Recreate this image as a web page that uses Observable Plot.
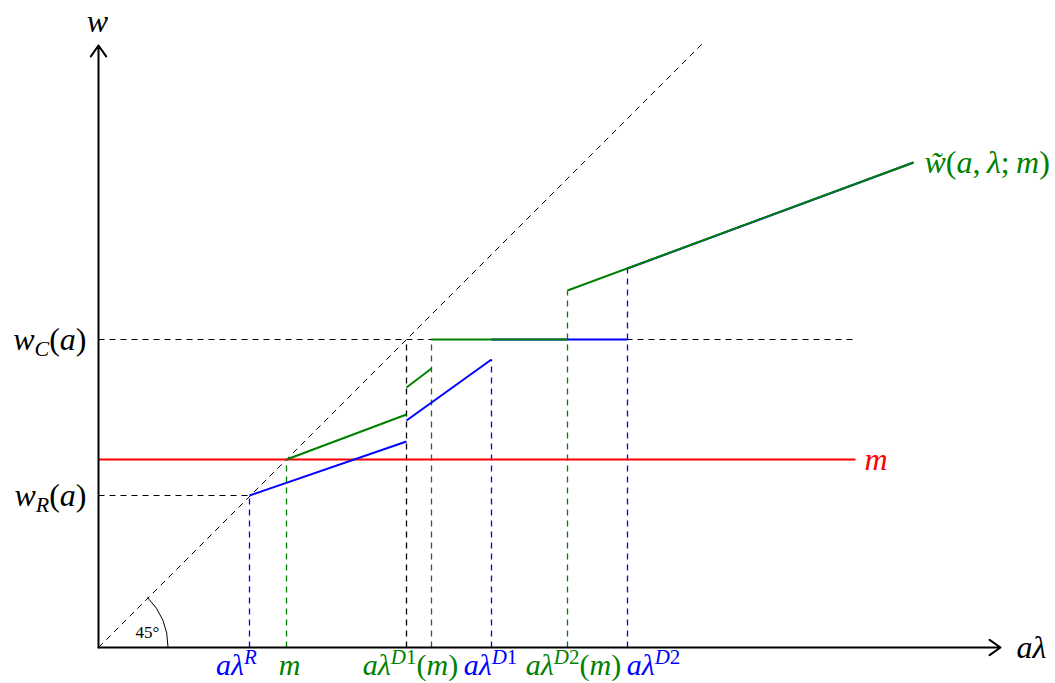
<!DOCTYPE html>
<html><head><meta charset="utf-8">
<script src="https://cdn.jsdelivr.net/npm/d3@7"></script>
<script src="https://cdn.jsdelivr.net/npm/@observablehq/plot@0.6"></script>
<style>body{margin:0;background:#fff}</style>
</head><body><div id="chart"></div>
<script>
// ---- data (units: arbitrary, equal on both axes) ----
const wR = 1.52, mLevel = 1.88, wC = 3.08;
const lineEnd = 7.57;            // right end of m and w_C(a) lines
const diagonalEnd = 6.05;        // 45° line end
const axisXMax = 9.02, axisYMax = 6.02;

const blueX1 = [1.51, 3.08, 3.93, 5.29];
const blueY1 = [1.52, 2.27, 3.08, 3.79];
const blueX2 = [3.08, 3.93, 5.29, 8.15];
const blueY2 = [2.06, 2.88, 3.08, 4.85];

const greenX1 = [1.88, 3.08, 3.33, 4.69];
const greenY1 = [1.88, 2.60, 3.08, 3.57];
const greenX2 = [3.08, 3.33, 4.69, 8.15];
const greenY2 = [2.33, 2.79, 3.08, 4.85];

const dropX     = [1.51, 1.88, 3.08, 3.33, 3.93, 4.69, 5.29];
const dropTop   = [1.52, 1.88, 3.08, 3.08, 2.88, 3.57, 3.79];
const dropColor = ["blue", "green", "black", "green", "blue", "green", "blue"];

const tickLabels     = ["aλ^{R}", "m", "aλ^{D1}(m)", "aλ^{D1}", "aλ^{D2}(m)", "aλ^{D2}"];
const tickLabelX     = [1.38, 1.91, 3.12, 3.92, 4.75, 5.55];
const tickLabelColor = ["blue", "green", "green", "blue", "green", "blue"];

const levelLabels = ["w_{C}(a)", "w_{R}(a)"];
const levelValues = [wC, wR];

const colorMap = {blue: "#0000ff", green: "#008000", black: "#000000", red: "#ff0000"};
const FS = 32, FS_TICK = 30;

// ---- build tables ----
const blueSegs = blueX1.map((x, i) => ({x1: x, y1: blueY1[i], x2: blueX2[i], y2: blueY2[i]}));
const greenSegs = greenX1.map((x, i) => ({x1: x, y1: greenY1[i], x2: greenX2[i], y2: greenY2[i]}));
const drops = dropX.map((x, i) => ({x, top: dropTop[i], c: dropColor[i]}));
const ticks = tickLabels.map((t, i) => ({t, x: tickLabelX[i], c: colorMap[tickLabelColor[i]]}));
const levels = levelLabels.map((t, i) => ({t, y: levelValues[i]}));

const xDomain = [-0.98, 9.57], yDomain = [-0.36, 6.47];
const dash = "6,5";

const dropMark = (col) => Plot.link(drops.filter(d => d.c === col),
  {x1: "x", y1: 0, x2: "x", y2: "top", stroke: colorMap[col], strokeWidth: 1.3, strokeDasharray: dash});

const plot = Plot.plot({
  width: 1055, height: 683,
  margin: 0,
  x: {domain: xDomain, range: [0, 1055], axis: null},
  y: {domain: yDomain, range: [683, 0], axis: null},
  style: {fontFamily: "'Liberation Serif', 'DejaVu Serif', serif", background: "#fff"},
  marks: [
    Plot.link([0], {x1: 0, y1: 0, x2: diagonalEnd, y2: diagonalEnd, stroke: "#000", strokeWidth: 1, strokeDasharray: dash}),
    Plot.link([0], {x1: 0, y1: wC, x2: lineEnd, y2: wC, stroke: "#000", strokeWidth: 1, strokeDasharray: dash}),
    Plot.link([0], {x1: 0, y1: wR, x2: blueX1[0], y2: wR, stroke: "#000", strokeWidth: 1, strokeDasharray: dash}),
    dropMark("black"), dropMark("green"), dropMark("blue"),
    Plot.link([0], {x1: 0, y1: mLevel, x2: lineEnd, y2: mLevel, stroke: colorMap.red, strokeWidth: 2}),
    Plot.link(blueSegs, {x1: "x1", y1: "y1", x2: "x2", y2: "y2", stroke: colorMap.blue, strokeWidth: 2}),
    Plot.link(greenSegs, {x1: "x1", y1: "y1", x2: "x2", y2: "y2", stroke: colorMap.green, strokeWidth: 2}),
    Plot.arrow([0], {x1: 0, y1: 0, x2: axisXMax, y2: 0, stroke: "#000", strokeWidth: 2, headLength: 10, headAngle: 70}),
    Plot.arrow([0], {x1: 0, y1: 0, x2: 0, y2: axisYMax, stroke: "#000", strokeWidth: 2, headLength: 10, headAngle: 70}),
    Plot.text(["w"], {x: -0.01, y: 6.26, text: d => d, fontSize: FS, fill: "#000", lineAnchor: "middle"}),
    Plot.text(["aλ"], {x: 9.18, y: 0, text: d => d, fontSize: FS, fill: "#000", textAnchor: "start", lineAnchor: "middle"}),
    Plot.text(levels, {x: -0.12, y: "y", text: "t", fontSize: FS, fill: "#000", textAnchor: "end", lineAnchor: "middle"}),
    Plot.text(["m"], {x: lineEnd + 0.09, y: mLevel, text: d => d, fontSize: FS, fill: colorMap.red, textAnchor: "start", lineAnchor: "middle"}),
    Plot.text(["w\u0303(a,\u2009λ;\u2009m)"], {x: 8.26, y: 4.85, text: d => d, fontSize: FS, fill: colorMap.green, textAnchor: "start", lineAnchor: "middle"}),
    Plot.text(ticks, {x: "x", y: 0, text: "t", fill: "c", fontSize: FS_TICK, lineAnchor: "top", dy: 6}),
    Plot.text(["45°"], {x: 0.49, y: 0.15, text: d => d, fontSize: 17, fill: "#000", lineAnchor: "middle", className: "plain"})
  ]
});

// angle arc
const sx = d3.scaleLinear(xDomain, [0, 1055]);
const sy = d3.scaleLinear(yDomain, [683, 0]);
const arcR = 0.70;
const r = sx(arcR) - sx(0);
d3.select(plot).append("path")
  .attr("d", `M${sx(arcR)},${sy(0)} A${r},${r} 0 0 0 ${sx(0) + r * Math.SQRT1_2},${sy(0) - r * Math.SQRT1_2}`)
  .attr("fill", "none").attr("stroke", "#000").attr("stroke-width", 1);

// math-style text: italic letters, upright punctuation/digits, ^{..} and _{..} as tspans
const NS = "http://www.w3.org/2000/svg";
d3.select(plot).selectAll("text").each(function() {
  const el = this;
  if (el.closest(".plain")) return;
  const base = parseFloat(el.closest("[font-size]")?.getAttribute("font-size")) || FS;
  const small = Math.round(base * 0.7);
  const txt = el.textContent;
  const groups = txt.split(/(\^\{[^}]*\}|_\{[^}]*\})/).filter(s => s.length);
  while (el.firstChild) el.removeChild(el.firstChild);
  let shift = 0;
  for (const g of groups) {
    let target = 0, content = g, isSmall = false;
    if (g.startsWith("^{")) { target = -Math.round(base * 0.37); content = g.slice(2, -1); isSmall = true; }
    else if (g.startsWith("_{")) { target = Math.round(base * 0.2); content = g.slice(2, -1); isSmall = true; }
    const runs = content.match(/([A-Za-zα-ωΑ-Ω\u0303]+|[^A-Za-zα-ωΑ-Ω\u0303]+)/g) || [];
    runs.forEach((run, k) => {
      const ts = document.createElementNS(NS, "tspan");
      if (k === 0 && target !== shift) { ts.setAttribute("dy", target - shift); shift = target; }
      if (isSmall) ts.setAttribute("font-size", small);
      ts.setAttribute("font-style", /[A-Za-zα-ωΑ-Ω]/.test(run) ? "italic" : "normal");
      ts.textContent = run;
      el.appendChild(ts);
    });
  }
});

document.getElementById("chart").appendChild(plot);
</script>
</body></html>
